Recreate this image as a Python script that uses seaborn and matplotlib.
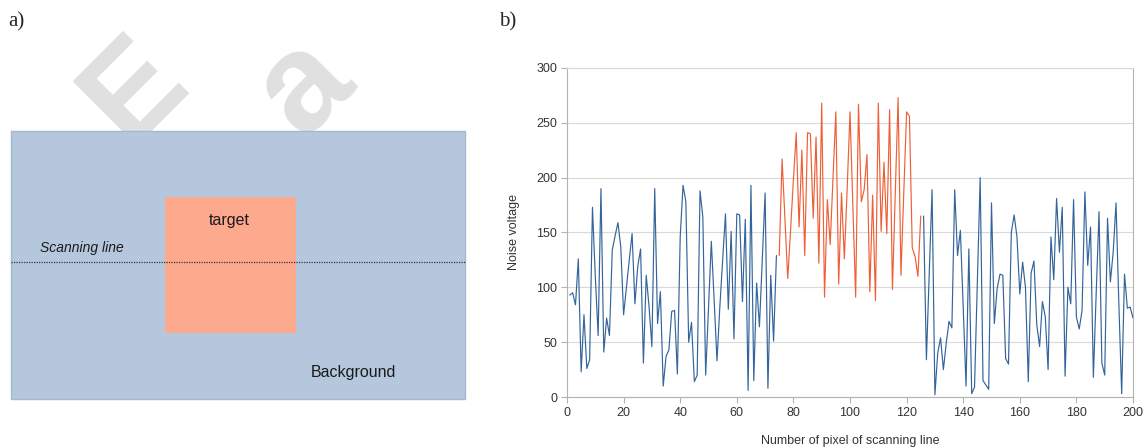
import numpy as np
import pandas as pd
import matplotlib
matplotlib.use("Agg")
import matplotlib.pyplot as plt
import seaborn as sns
from matplotlib.patches import Rectangle

sns.set_theme(style="white")
plt.rcParams['font.family'] = ['Liberation Sans', 'DejaVu Sans']

# ---------------- data ----------------
# noise voltage along the scanning line, pixels 1..74 (background)
background_left = [93, 95, 84, 126, 23, 75, 26, 34, 173, 110,
                   56, 190, 41, 72, 56, 134, 147, 159, 137, 75,
                   100, 125, 149, 85, 119, 135, 31, 111, 82, 46,
                   190, 67, 96, 10, 37, 43, 78, 79, 21, 146,
                   193, 178, 50, 68, 14, 20, 188, 164, 20, 81,
                   142, 88, 33, 82, 125, 167, 80, 151, 53, 167,
                   166, 87, 162, 6, 193, 15, 104, 64, 125, 186,
                   8, 111, 51, 129]
# pixels 75..125 (target)
target_values = [129, 217, 163, 108, 152, 198, 241, 155, 225, 129,
                 241, 240, 163, 237, 122, 268, 91, 180, 139, 200,
                 260, 103, 186, 126, 190, 260, 175, 91, 267, 178,
                 189, 221, 96, 184, 88, 268, 151, 214, 149, 262,
                 98, 186, 273, 111, 186, 260, 256, 136, 128, 110,
                 165]
# pixels 126..200 (background)
background_right = [165, 34, 113, 189, 2, 40, 54, 25, 49, 69,
                    63, 189, 129, 152, 82, 10, 135, 3, 9, 105,
                    200, 15, 11, 7, 177, 67, 99, 112, 111, 35,
                    30, 150, 166, 146, 94, 123, 100, 14, 113, 124,
                    66, 46, 87, 73, 25, 146, 107, 181, 132, 173,
                    19, 100, 85, 180, 73, 62, 79, 187, 120, 155,
                    18, 95, 169, 31, 20, 163, 105, 132, 177, 85,
                    3, 112, 81, 82, 72]

x_ticks = [0, 20, 40, 60, 80, 100, 120, 140, 160, 180, 200]
y_ticks = [0, 50, 100, 150, 200, 250, 300]

BLUE = '#34649a'
RED = '#ee5f37'

# ---------------- figure ----------------
fig = plt.figure(figsize=(11.48, 4.48), dpi=100)

# ----- panel a: schematic (pixel coordinates of the left half) -----
ax_a = fig.add_axes([0, 0, 0.5, 1])
ax_a.set_xlim(0, 574)
ax_a.set_ylim(448, 0)
ax_a.axis('off')

# faint watermark behind the drawing (lower part hidden by the rectangle)
ax_a.text(135, 90, 'E', rotation=45, fontsize=95, fontweight='bold',
          color='#e0e0e0', ha='center', va='center', zorder=0)
ax_a.text(305, 86, 'a', rotation=45, fontsize=100, fontweight='bold',
          color='#e0e0e0', ha='center', va='center', zorder=0)

ax_a.add_patch(Rectangle((11, 131), 454, 268, facecolor='#b4c7dc',
                         edgecolor='#a3b8d3', linewidth=1, zorder=2))
ax_a.add_patch(Rectangle((165, 197), 131, 136, facecolor='#fca98d',
                         edgecolor='none', zorder=3))
ax_a.plot([11, 465], [262, 262], color='#333333', linewidth=0.9,
          linestyle=(0, (1, 1)), zorder=4)
ax_a.text(229, 220, 'target', fontsize=11.5, color='#1a1a1a',
          ha='center', va='center', zorder=5)
ax_a.text(40, 248, 'Scanning line', fontsize=10, style='italic',
          color='#1a1a1a', ha='left', va='center', zorder=5)
ax_a.text(311, 373, 'Background', fontsize=11.5, color='#1a1a1a',
          ha='left', va='center', zorder=5)
fig.text(8 / 1148, 1 - 22 / 448, 'a)', fontsize=15,
         family=['Liberation Serif', 'DejaVu Serif'], va='center', ha='left')
fig.text(499 / 1148, 1 - 22 / 448, 'b)', fontsize=15,
         family=['Liberation Serif', 'DejaVu Serif'], va='center', ha='left')

# ----- panel b: line chart -----
ax_b = fig.add_axes([567 / 1148, 51 / 448, 566 / 1148, 329 / 448])

n_left = len(background_left)
n_target = len(target_values)
px_left = np.arange(1, n_left + 1)
px_target = np.arange(n_left + 1, n_left + n_target + 1)
px_right = np.arange(n_left + n_target + 1,
                     n_left + n_target + len(background_right) + 1)

segments = [
    (px_left, background_left, BLUE),
    (px_right, background_right, BLUE),
    (px_target, target_values, RED),
]
for xs, ys, col in segments:
    df = pd.DataFrame({'pixel': xs, 'voltage': ys})
    sns.lineplot(data=df, x='pixel', y='voltage', estimator=None,
                 color=col, linewidth=0.85, ax=ax_b, zorder=3)

ax_b.set_xlim(0, 200)
ax_b.set_ylim(0, 300)
ax_b.set_xticks(x_ticks)
ax_b.set_yticks(y_ticks)
ax_b.yaxis.grid(True, color='#d9d9d9', linewidth=0.8, zorder=0)
ax_b.xaxis.grid(False)
ax_b.set_axisbelow(True)
for sp in ax_b.spines.values():
    sp.set_color('#b3b3b3')
    sp.set_linewidth(0.8)
ax_b.spines['top'].set_color('#d9d9d9')
ax_b.tick_params(axis='both', which='major', direction='out', length=4,
                 width=0.8, color='#b3b3b3', labelsize=9,
                 labelcolor='#333333', pad=3, bottom=True, left=True)
ax_b.set_xlabel('Number of pixel of scanning line', fontsize=9,
                color='#333333', labelpad=12)
ax_b.set_ylabel('Noise voltage', fontsize=9, color='#333333', labelpad=12)

fig.savefig('out.png', dpi=100)
